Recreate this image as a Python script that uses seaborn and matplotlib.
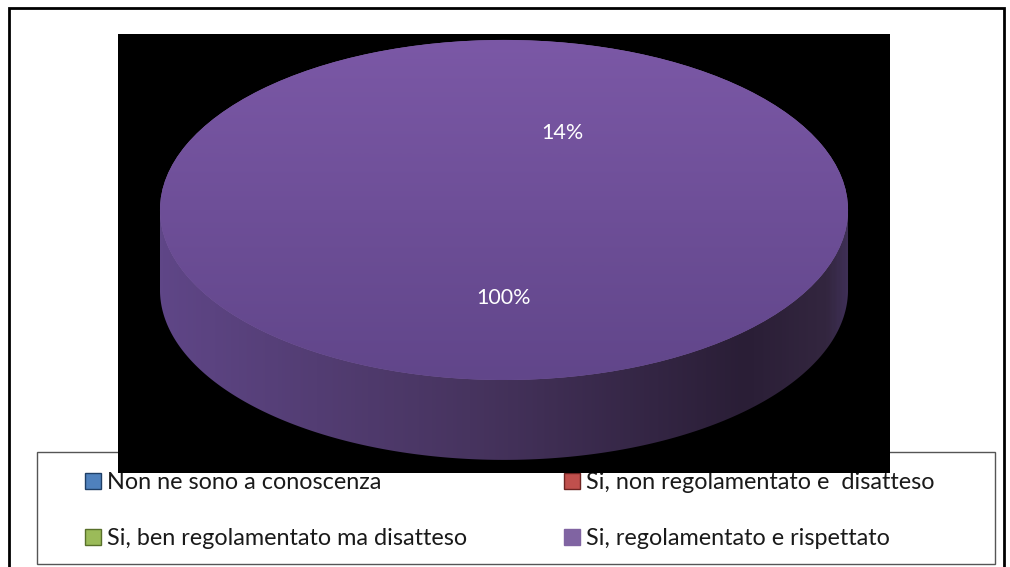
import numpy as np
import matplotlib.pyplot as plt
from matplotlib.patches import Patch, Rectangle, Polygon
from matplotlib.colors import LinearSegmentedColormap
import seaborn as sns

# Data
categories = ['Non ne sono a conoscenza',
              'Si, non regolamentato e  disatteso',
              'Si, ben regolamentato ma disatteso',
              'Si, regolamentato e rispettato']
shares = [0, 0, 0, 100]
stray_label = '14%'
legend_colors = ['#4F81BD', '#C0504D', '#9BBB59', '#8064A2']
legend_edges = ['#1F3F66', '#6E2422', '#58702A', '#8064A2']

sns.set_theme(style='white')
plt.rcParams['font.family'] = ['Lato', 'DejaVu Sans']

W, H = 1010, 567
fig = plt.figure(figsize=(W / 100, H / 100), dpi=100)
fig.patch.set_facecolor('white')

# outer chart border
fig.add_artist(Rectangle((9 / W, -0.05), 995 / W, 1 - 8 / H + 0.05,
                         transform=fig.transFigure, fill=False,
                         edgecolor='black', lw=2))
# legend box
fig.add_artist(Rectangle((37 / W, 1 - 564 / H), 958 / W, 112 / H,
                         transform=fig.transFigure, facecolor='white',
                         edgecolor='#555555', lw=1, zorder=1))

# plot area (black)
ax = fig.add_axes([118 / W, 1 - 473 / H, 772 / W, 439 / H])
ax.set_zorder(10)

depth = 0.47
wedges, texts, autotexts = ax.pie(
    shares, startangle=90, colors=legend_colors, radius=1,
    autopct=lambda p: f'{p:.0f}%' if p > 0 else '',
    pctdistance=0.52,
    wedgeprops=dict(linewidth=0, zorder=2),
    textprops=dict(color='white', fontsize=15.5))
for t in autotexts:
    t.set_zorder(6)

ax.set_aspect('auto')
ax.set_frame_on(True)
ax.set_facecolor('black')
for s in ax.spines.values():
    s.set_visible(False)

# side of the 3D disc
theta = np.linspace(np.pi, 2 * np.pi, 300)
side_pts = [(-1, 0)] + list(zip(np.cos(theta), np.sin(theta) - depth)) + [(1, 0)]
side_poly = Polygon(side_pts, closed=True, facecolor='none', edgecolor='none')
ax.add_patch(side_poly)
side_cmap = LinearSegmentedColormap.from_list(
    'side', [(0, '#5F4687'), (0.45, '#47345F'), (0.85, '#2A1E36'),
             (0.97, '#33263F'), (1.0, '#3E2F55')])
grad_h = np.linspace(0, 1, 400).reshape(1, -1)
im_side = ax.imshow(grad_h, extent=[-1, 1, -1 - depth, 0], cmap=side_cmap,
                    aspect='auto', zorder=1)
im_side.set_clip_path(side_poly)

# top face gradient
top_cmap = LinearSegmentedColormap.from_list('top', ['#61468A', '#7B58A6'])
grad_v = np.linspace(0, 1, 400).reshape(-1, 1)
im_top = ax.imshow(grad_v, extent=[-1, 1, -1, 1], origin='lower',
                   cmap=top_cmap, aspect='auto', zorder=3)
im_top.set_clip_path(wedges[3])

ax.text(0.17, 0.45, stray_label, color='white', fontsize=15.5,
        ha='center', va='center', zorder=6)

ax.set_xlim(-1.122, 1.122)
ax.set_ylim(-1.547, 1.035)
ax.set_xticks([])
ax.set_yticks([])

# legend (beneath the plot area)
handles = [Patch(facecolor=c, edgecolor=e, lw=1) for c, e in zip(legend_colors, legend_edges)]
order = [0, 2, 1, 3]
leg = fig.legend([handles[i] for i in order], [categories[i] for i in order],
                 ncol=2, loc='upper left',
                 bbox_to_anchor=(85 / W, 1 - 472 / H),
                 borderaxespad=0, borderpad=0, frameon=False, fontsize=16.8,
                 handlelength=0.69, handleheight=0.69, handletextpad=0.25,
                 labelspacing=1.5, columnspacing=4.15)
leg.set_zorder(2)
for t in leg.get_texts():
    t.set_color('#1a1a1a')

fig.savefig('out.png', dpi=100)
